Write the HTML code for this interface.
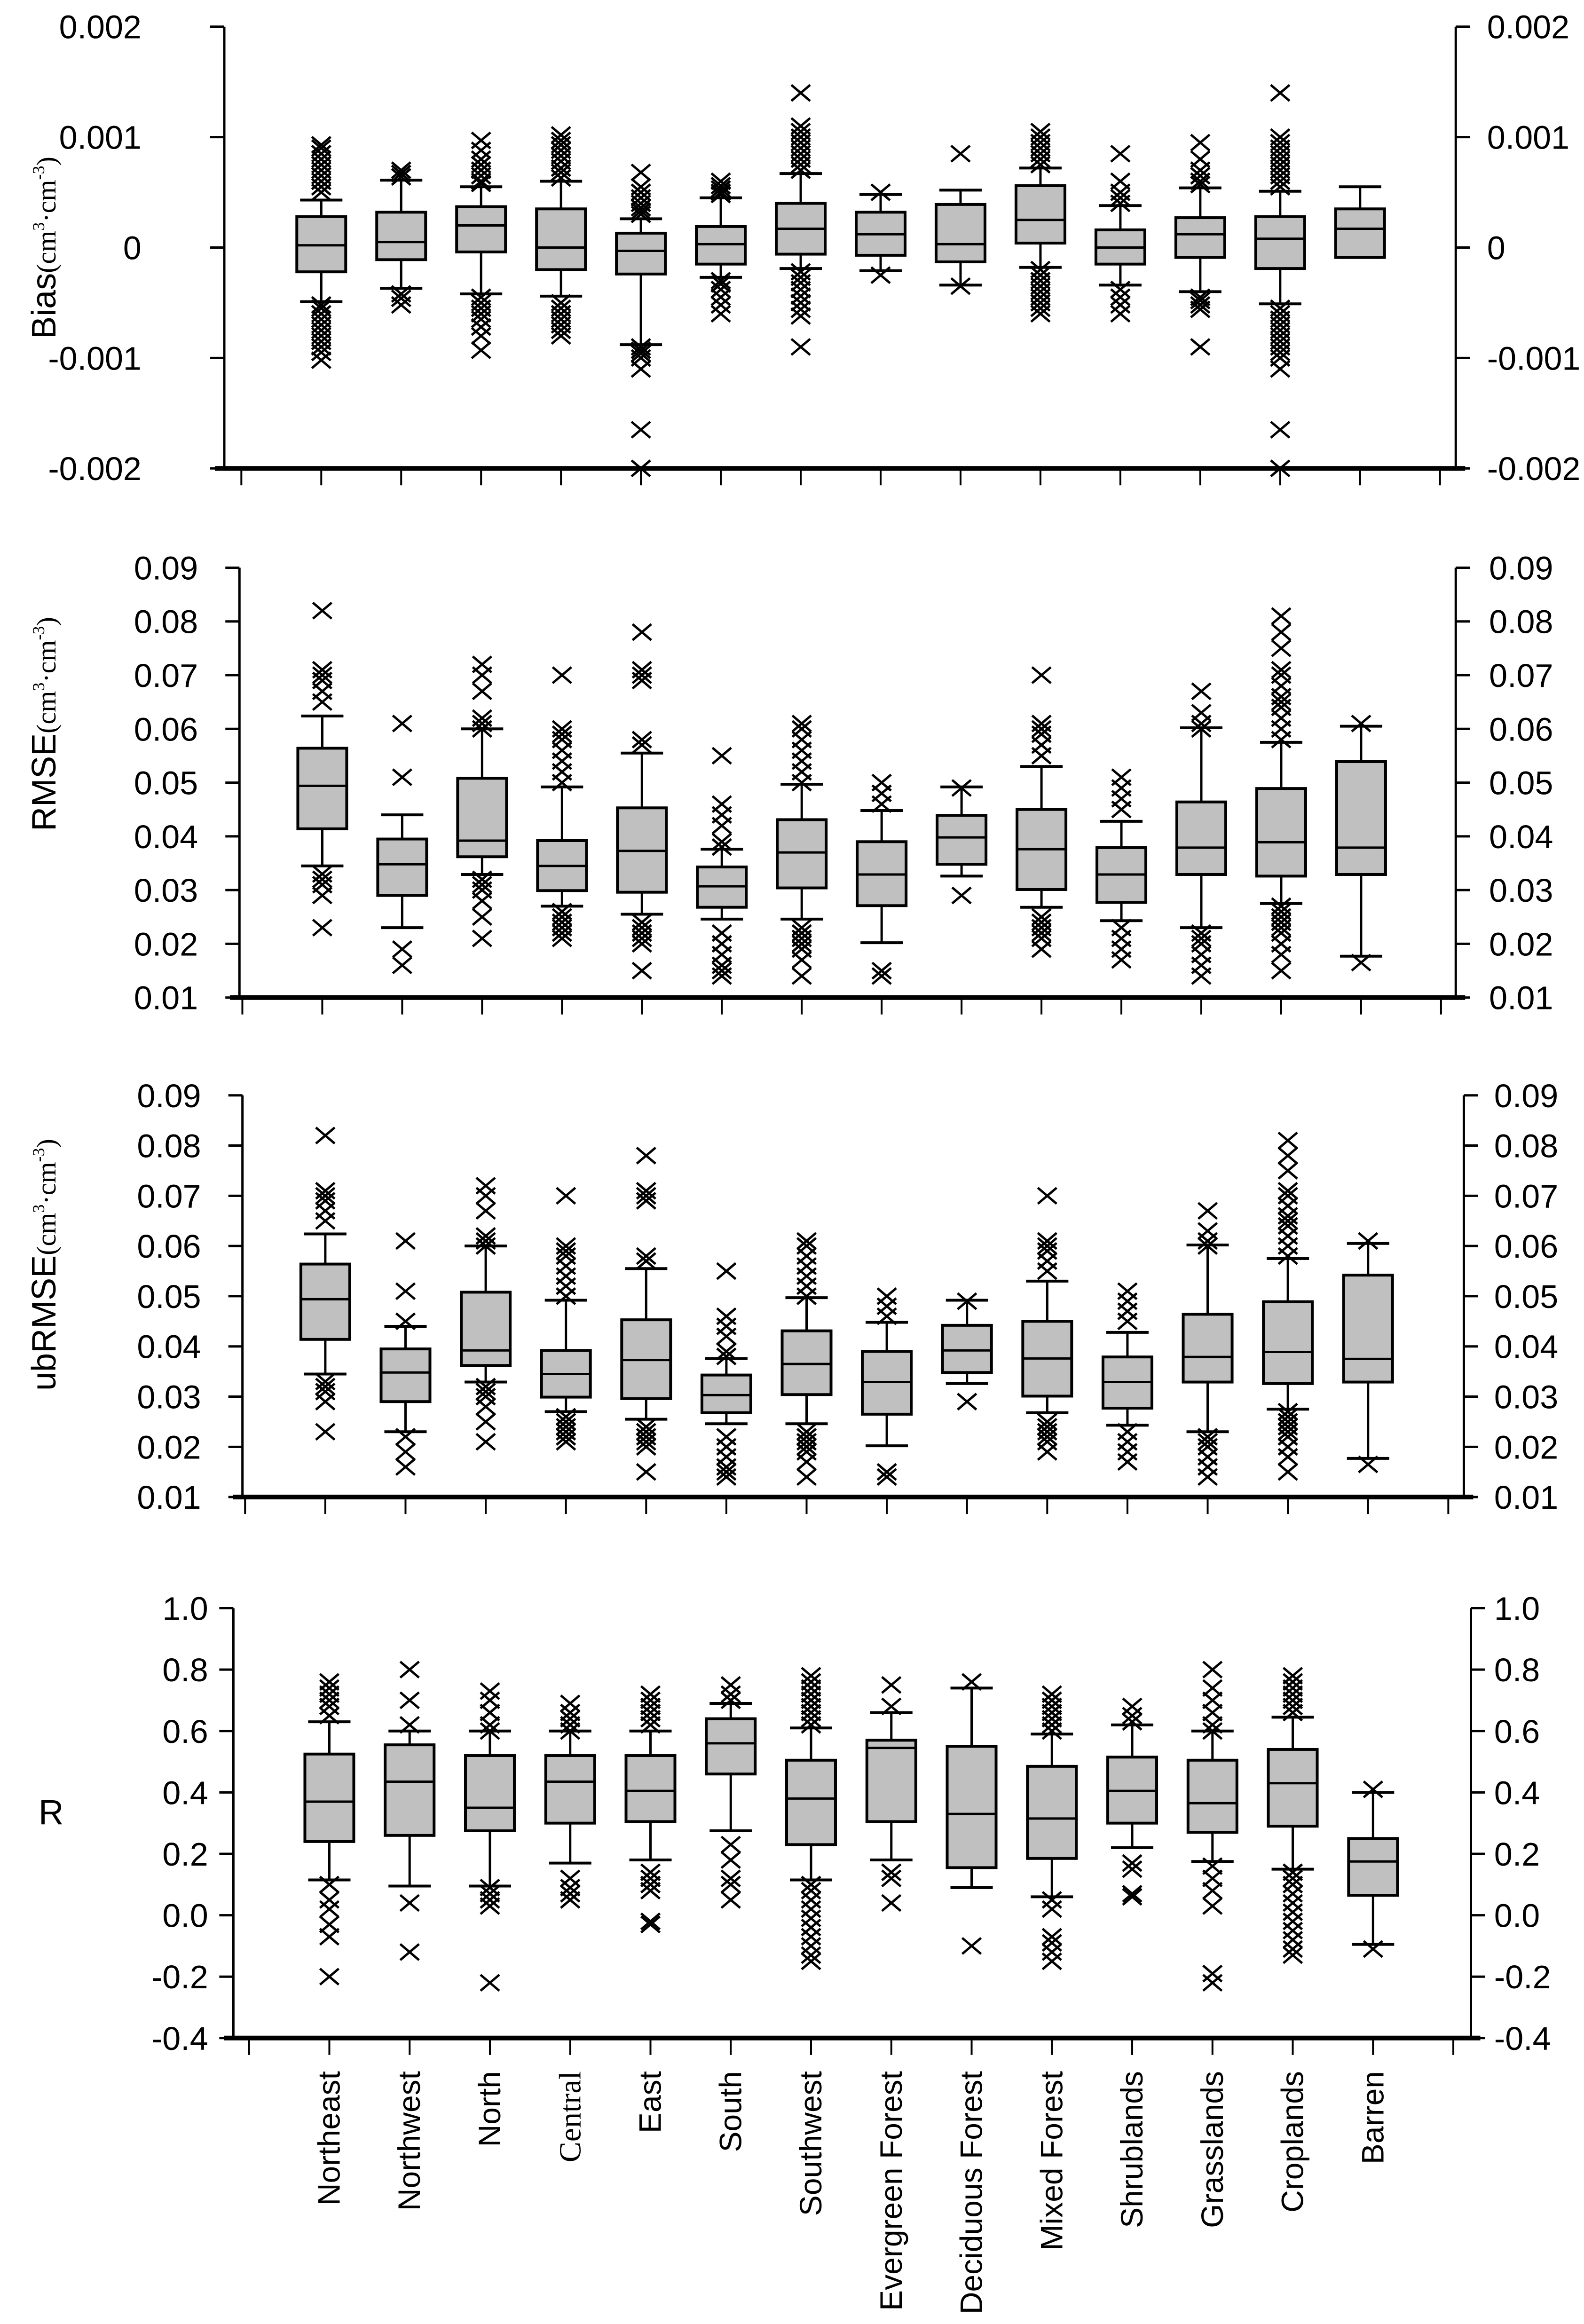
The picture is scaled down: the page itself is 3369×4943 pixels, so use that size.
<!DOCTYPE html>
<html><head><meta charset="utf-8"><style>
html,body{margin:0;padding:0;background:#fff;}
svg{display:block;}
</style></head><body>
<svg id="chart" xmlns="http://www.w3.org/2000/svg" width="3369" height="4943" viewBox="0 0 3369 4943">
<rect x="0" y="0" width="3369" height="4943" fill="#fff"/>
</svg>
<script>
const categories=["Northeast","Northwest","North","Central","East","South","Southwest","Evergreen Forest","Deciduous Forest","Mixed Forest","Shrublands","Grasslands","Croplands","Barren"];

// Bias (x0.001 cm3/cm3)
const biasLo=[-0.49,-0.37,-0.42,-0.44,-0.88,-0.27,-0.19,-0.21,-0.34,-0.18,-0.34,-0.40,-0.51,-0.09];
const biasQ1=[-0.22,-0.11,-0.04,-0.20,-0.24,-0.15,-0.06,-0.07,-0.13,0.04,-0.15,-0.09,-0.19,-0.09];
const biasMed=[0.02,0.05,0.20,0.00,-0.03,0.03,0.17,0.12,0.03,0.25,0.00,0.12,0.08,0.17];
const biasQ3=[0.28,0.32,0.37,0.35,0.13,0.19,0.40,0.32,0.39,0.56,0.16,0.27,0.28,0.35];
const biasHi=[0.43,0.61,0.55,0.60,0.26,0.45,0.67,0.48,0.52,0.72,0.38,0.54,0.51,0.55];
const biasOut=[
[0.5,0.55,0.6,0.65,0.7,0.75,0.8,0.85,0.9,0.93,-0.52,-0.55,-0.6,-0.65,-0.7,-0.75,-0.8,-0.85,-0.9,-0.95,-1.02],
[0.64,0.67,0.7,-0.42,-0.46,-0.52],
[0.58,0.6,0.65,0.7,0.75,0.8,0.88,0.97,-0.45,-0.5,-0.55,-0.6,-0.65,-0.72,-0.8,-0.93],
[0.63,0.68,0.72,0.78,0.83,0.88,0.93,0.97,1.02,-0.5,-0.55,-0.6,-0.65,-0.7,-0.75,-0.8],
[0.3,0.33,0.36,0.4,0.45,0.5,0.55,0.68,-0.9,-0.93,-0.96,-1.0,-1.1,-1.65,-2.0],
[0.48,0.5,0.53,0.56,0.6,-0.3,-0.33,-0.38,-0.45,-0.52,-0.6],
[0.7,0.75,0.8,0.85,0.9,0.95,1.0,1.05,1.1,1.4,-0.22,-0.27,-0.32,-0.38,-0.44,-0.5,-0.56,-0.62,-0.9],
[0.5,-0.25],
[0.85,-0.35],
[0.75,0.8,0.85,0.9,0.95,1.0,1.05,-0.2,-0.25,-0.3,-0.35,-0.4,-0.45,-0.5,-0.55,-0.6],
[0.4,0.45,0.5,0.6,0.85,-0.38,-0.45,-0.52,-0.6],
[0.57,0.6,0.65,0.7,0.8,0.95,-0.45,-0.48,-0.52,-0.56,-0.9],
[0.55,0.6,0.65,0.7,0.75,0.8,0.85,0.9,0.95,1.0,1.4,-0.55,-0.6,-0.65,-0.7,-0.75,-0.8,-0.85,-0.9,-0.95,-1.0,-1.1,-1.65,-2.0],
[]];
const biasTicks=[2,1,0,-1,-2];
const biasTickLabels=["0.002","0.001","0","-0.001","-0.002"];

// RMSE
const rmseLo=[0.0345,0.023,0.0329,0.027,0.0255,0.0246,0.0246,0.0202,0.0326,0.0268,0.0243,0.023,0.0275,0.0177];
const rmseQ1=[0.0414,0.029,0.0362,0.0299,0.0296,0.0268,0.0304,0.0271,0.0348,0.0301,0.0277,0.0329,0.0326,0.0329];
const rmseMed=[0.0494,0.0348,0.0392,0.0345,0.0373,0.0307,0.037,0.0329,0.0398,0.0376,0.0329,0.0379,0.0389,0.0379];
const rmseQ3=[0.0564,0.0395,0.0508,0.0392,0.0453,0.0343,0.0431,0.039,0.0439,0.045,0.0379,0.0464,0.0489,0.0539];
const rmseHi=[0.0624,0.044,0.06,0.0492,0.0555,0.0376,0.0497,0.0448,0.0492,0.053,0.0428,0.0602,0.0575,0.0605];
const rmseOut=[
[0.065,0.067,0.069,0.07,0.071,0.082,0.023,0.029,0.031,0.032,0.033],
[0.051,0.061,0.019,0.016],
[0.06,0.061,0.062,0.067,0.07,0.072,0.021,0.025,0.028,0.03,0.031,0.032],
[0.05,0.052,0.054,0.056,0.058,0.059,0.06,0.07,0.021,0.022,0.023,0.024,0.025,0.026],
[0.057,0.058,0.069,0.07,0.071,0.078,0.015,0.02,0.021,0.022,0.023,0.024],
[0.038,0.039,0.042,0.044,0.046,0.055,0.014,0.015,0.016,0.018,0.02,0.022],
[0.05,0.052,0.054,0.056,0.058,0.06,0.061,0.014,0.017,0.019,0.02,0.021,0.022,0.023],
[0.046,0.048,0.05,0.014,0.015],
[0.049,0.029],
[0.055,0.057,0.059,0.06,0.061,0.07,0.019,0.021,0.022,0.023,0.024,0.025],
[0.045,0.047,0.049,0.051,0.017,0.019,0.021,0.023],
[0.06,0.061,0.063,0.067,0.014,0.016,0.018,0.02,0.021,0.022],
[0.058,0.06,0.062,0.064,0.065,0.066,0.068,0.07,0.071,0.075,0.078,0.081,0.015,0.018,0.02,0.022,0.023,0.024,0.025,0.026,0.027],
[0.061,0.0165]];

// ubRMSE
const ubLo=[0.0345,0.023,0.0329,0.027,0.0255,0.0246,0.0246,0.0202,0.0326,0.0268,0.0243,0.023,0.0275,0.0177];
const ubQ1=[0.0414,0.029,0.0362,0.0299,0.0296,0.0268,0.0304,0.0265,0.0348,0.0301,0.0277,0.0329,0.0326,0.0329];
const ubMed=[0.0494,0.0348,0.0392,0.0345,0.0373,0.0303,0.0365,0.0329,0.0392,0.0376,0.0329,0.0379,0.0389,0.0375];
const ubQ3=[0.0564,0.0395,0.0508,0.0392,0.0453,0.0343,0.0431,0.039,0.0442,0.045,0.0379,0.0464,0.0489,0.0542];
const ubHi=[0.0624,0.044,0.06,0.0492,0.0555,0.0376,0.0497,0.0448,0.0492,0.053,0.0428,0.0602,0.0575,0.0605];
const ubOut=[
[0.065,0.067,0.069,0.07,0.071,0.082,0.023,0.029,0.031,0.032,0.033],
[0.045,0.051,0.061,0.022,0.019,0.016],
[0.06,0.061,0.062,0.067,0.07,0.072,0.021,0.025,0.028,0.03,0.031,0.032],
[0.05,0.052,0.054,0.056,0.058,0.059,0.06,0.07,0.021,0.022,0.023,0.024,0.025,0.026],
[0.057,0.058,0.069,0.07,0.071,0.078,0.015,0.02,0.021,0.022,0.023,0.024],
[0.038,0.039,0.042,0.044,0.046,0.055,0.014,0.015,0.016,0.018,0.02,0.022],
[0.05,0.052,0.054,0.056,0.058,0.06,0.061,0.014,0.017,0.019,0.02,0.021,0.022,0.023],
[0.046,0.048,0.05,0.014,0.015],
[0.049,0.029],
[0.055,0.057,0.059,0.06,0.061,0.07,0.019,0.021,0.022,0.023,0.024,0.025],
[0.045,0.047,0.049,0.051,0.017,0.019,0.021,0.023],
[0.06,0.061,0.063,0.067,0.014,0.016,0.018,0.02,0.021,0.022],
[0.058,0.06,0.062,0.064,0.065,0.066,0.068,0.07,0.071,0.075,0.078,0.081,0.015,0.018,0.02,0.022,0.023,0.024,0.025,0.026,0.027],
[0.061,0.0165]];
const rmseTicks=[0.09,0.08,0.07,0.06,0.05,0.04,0.03,0.02,0.01];
const rmseTickLabels=["0.09","0.08","0.07","0.06","0.05","0.04","0.03","0.02","0.01"];

// R
const rLo=[0.115,0.095,0.095,0.17,0.18,0.275,0.115,0.18,0.09,0.06,0.22,0.175,0.15,-0.095];
const rQ1=[0.24,0.26,0.275,0.3,0.305,0.46,0.23,0.305,0.155,0.185,0.3,0.27,0.29,0.065];
const rMed=[0.37,0.435,0.35,0.435,0.405,0.56,0.38,0.545,0.33,0.315,0.405,0.365,0.43,0.175];
const rQ3=[0.525,0.555,0.52,0.52,0.52,0.64,0.505,0.57,0.55,0.485,0.515,0.505,0.54,0.25];
const rHi=[0.63,0.6,0.6,0.6,0.6,0.69,0.61,0.66,0.74,0.59,0.62,0.6,0.645,0.4];
const rOut=[
[0.65,0.68,0.7,0.72,0.74,0.76,0.1,0.05,0.02,-0.03,-0.07,-0.2],
[0.62,0.7,0.8,0.04,-0.12],
[0.6,0.62,0.66,0.7,0.73,0.09,0.07,0.05,0.03,-0.22],
[0.6,0.62,0.64,0.66,0.69,0.12,0.09,0.07,0.05],
[0.62,0.64,0.66,0.68,0.7,0.72,0.14,0.12,0.1,0.08,-0.02,-0.03],
[0.7,0.72,0.75,0.23,0.18,0.12,0.1,0.05],
[0.62,0.64,0.66,0.68,0.7,0.72,0.74,0.76,0.78,0.1,0.08,0.05,0.02,-0.01,-0.04,-0.07,-0.1,-0.13,-0.15],
[0.68,0.75,0.14,0.12,0.04],
[0.76,-0.1],
[0.6,0.62,0.64,0.66,0.68,0.7,0.72,0.05,0.02,-0.07,-0.09,-0.12,-0.15],
[0.63,0.65,0.68,0.17,0.15,0.07,0.06],
[0.6,0.62,0.66,0.7,0.74,0.8,0.16,0.12,0.08,0.03,-0.19,-0.22],
[0.66,0.68,0.7,0.72,0.74,0.76,0.78,0.14,0.12,0.1,0.07,0.04,0.01,-0.02,-0.05,-0.08,-0.11,-0.13],
[0.41,-0.11]];
const rTicks=[1.0,0.8,0.6,0.4,0.2,0.0,-0.2,-0.4];
const rTickLabels=["1.0","0.8","0.6","0.4","0.2","0.0","-0.2","-0.4"];

const NS="http://www.w3.org/2000/svg";
const svg=document.getElementById('chart');
const KX=1/0.4654, KY=1/0.3172;
function mk(tag,attrs,parent){const e=document.createElementNS(NS,tag);for(const k in attrs)e.setAttribute(k,attrs[k]);(parent||svg).appendChild(e);return e;}

const panels=[
 {key:'bias',L:222,R:1441,c0:318,sp:79.1,top:18,bot:316,max:2,min:-2,lo:biasLo,q1:biasQ1,med:biasMed,q3:biasQ3,hi:biasHi,out:biasOut,ticks:biasTicks,labels:biasTickLabels,lblR:140,lblL:1472,title:'Bias',tx:112,ty:527},
 {key:'rmse',L:237,R:1441,c0:319,sp:79.1,top:383,bot:673,max:0.09,min:0.01,lo:rmseLo,q1:rmseQ1,med:rmseMed,q3:rmseQ3,hi:rmseHi,out:rmseOut,ticks:rmseTicks,labels:rmseTickLabels,lblR:196,lblL:1474,title:'RMSE',tx:112,ty:1540},
 {key:'ubrmse',L:240,R:1449,c0:322,sp:79.4,top:739,bot:1010,max:0.09,min:0.01,lo:ubLo,q1:ubQ1,med:ubMed,q3:ubQ3,hi:ubHi,out:ubOut,ticks:rmseTicks,labels:rmseTickLabels,lblR:199,lblL:1479,title:'ubRMSE',tx:112,ty:2690},
 {key:'r',L:231,R:1456,c0:326,sp:79.47,top:1085,bot:1375,max:1.0,min:-0.4,lo:rLo,q1:rQ1,med:rMed,q3:rQ3,hi:rHi,out:rOut,ticks:rTicks,labels:rTickLabels,lblR:206,lblL:1479,title:'R',tx:0,ty:0}
];

panels.forEach(function(p){
  const g=mk('g',{});
  
  
  const L=p.L*KX, R=p.R*KX, T=p.top*KY, B=p.bot*KY;
  const yS=v=>B-(v-p.min)/(p.max-p.min)*(B-T);
  const xS=i=>(p.c0+p.sp*i)*KX;
  const la=mk('line',{x1:L,y1:T,x2:L,y2:B,stroke:'#000','stroke-width':5},g);
  
  const ra=mk('line',{x1:R,y1:T,x2:R,y2:B,stroke:'#000','stroke-width':5},g);
  
  const ba=mk('line',{x1:L-20,y1:B,x2:R+20,y2:B,stroke:'#000','stroke-width':10},g);
  
  for(let i=-1;i<=14;i++){
    const x=xS(i); if(x<L||x>R)continue;
    const t=mk('line',{x1:x,y1:B,x2:x,y2:B+36,stroke:'#000','stroke-width':4},g);
    
  }
  p.ticks.forEach(function(v,k){
    const y=yS(v);
    const t1=mk('line',{x1:L-30,y1:y,x2:L,y2:y,stroke:'#000','stroke-width':5},g);
    
    const t2=mk('line',{x1:R,y1:y,x2:R+30,y2:y,stroke:'#000','stroke-width':5},g);
    
    const a=mk('text',{x:p.lblR*KX,y:y+25,'text-anchor':'end','font-family':'"Liberation Sans",sans-serif','font-size':70,fill:'#000'},g);
    a.textContent=p.labels[k];
    
    const b=mk('text',{x:p.lblL*KX,y:y+25,'text-anchor':'start','font-family':'"Liberation Sans",sans-serif','font-size':70,fill:'#000'},g);
    b.textContent=p.labels[k];
    
  });
  categories.forEach(function(c,i){
    const bg=mk('g',{},g);
    
    
    const x=xS(i), hw=52, cw=45;
    mk('line',{x1:x,y1:yS(p.hi[i]),x2:x,y2:yS(p.q3[i]),stroke:'#000','stroke-width':5},bg);
    mk('line',{x1:x,y1:yS(p.q1[i]),x2:x,y2:yS(p.lo[i]),stroke:'#000','stroke-width':5},bg);
    mk('line',{x1:x-cw,y1:yS(p.hi[i]),x2:x+cw,y2:yS(p.hi[i]),stroke:'#000','stroke-width':6},bg);
    mk('line',{x1:x-cw,y1:yS(p.lo[i]),x2:x+cw,y2:yS(p.lo[i]),stroke:'#000','stroke-width':6},bg);
    const y3=yS(p.q3[i]), y1=yS(p.q1[i]);
    mk('rect',{x:x-hw,y:y3,width:2*hw,height:Math.max(1,y1-y3),fill:'#c0c0c0',stroke:'#000','stroke-width':6},bg);
    mk('line',{x1:x-hw,y1:yS(p.med[i]),x2:x+hw,y2:yS(p.med[i]),stroke:'#000','stroke-width':5},bg);
    p.out[i].forEach(function(v){
      const y=yS(v);
      const m=mk('path',{d:'M'+(x-20)+' '+(y-17)+'L'+(x+20)+' '+(y+17)+'M'+(x+20)+' '+(y-17)+'L'+(x-20)+' '+(y+17),stroke:'#000','stroke-width':5,fill:'none'},bg);
      
      
    });
  });
  if(p.key==='r'){
    const t=mk('text',{x:82,y:3880,'font-family':'"Liberation Sans",sans-serif','font-size':74,fill:'#000'},g);
    t.textContent='R';
    
  } else {
    const t=mk('text',{x:0,y:0,'text-anchor':'middle',transform:'translate('+(p.tx+6)+','+p.ty+') rotate(-90)','font-family':'"Liberation Sans",sans-serif','font-size':72,fill:'#000'},g);
    
    const s1=mk('tspan',{},t);s1.textContent=p.title;
    const s2=mk('tspan',{'font-family':'"Liberation Serif",serif','font-size':58},t);s2.textContent='(cm';
    const s3=mk('tspan',{'font-family':'"Liberation Serif",serif','font-size':36,dy:-24},t);s3.textContent='3';
    const s4=mk('tspan',{'font-family':'"Liberation Serif",serif','font-size':58,dy:24},t);s4.textContent='·cm';
    const s5=mk('tspan',{'font-family':'"Liberation Serif",serif','font-size':36,dy:-24},t);s5.textContent='-3';
    const s6=mk('tspan',{'font-family':'"Liberation Serif",serif','font-size':58,dy:24},t);s6.textContent=')';
  }
});

const pl=panels[3];
categories.forEach(function(c,i){
  const x=(pl.c0+pl.sp*i)*KX+22;
  const t=mk('text',{x:0,y:0,'text-anchor':'end',transform:'translate('+x+',4405) rotate(-90)','font-family':c==='Central'?'"Liberation Serif",serif':'"Liberation Sans",sans-serif','font-size':66,fill:'#000'});
  t.textContent=c;
  
  
});
</script>
</body></html>
